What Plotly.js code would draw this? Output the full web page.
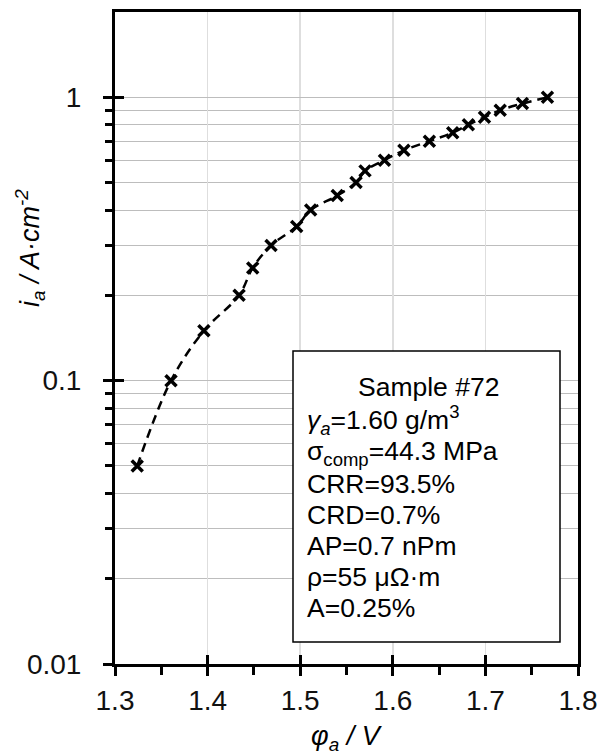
<!DOCTYPE html>
<html>
<head>
<meta charset="utf-8">
<script src="https://cdn.plot.ly/plotly-3.0.1.min.js"></script>
<style>html,body{margin:0;padding:0;background:#fff;}#chart{width:613px;height:754px;}</style>
</head>
<body>
<div id="chart"></div>
<script>
// Data
var potential = [1.324, 1.3605, 1.396, 1.434, 1.4487, 1.4685, 1.4962, 1.5113, 1.540, 1.5603, 1.570, 1.591, 1.612, 1.6395, 1.6647, 1.6816, 1.699, 1.716, 1.740, 1.767];
var current   = [0.05, 0.10, 0.15, 0.20, 0.25, 0.30, 0.35, 0.40, 0.45, 0.50, 0.55, 0.60, 0.65, 0.70, 0.75, 0.80, 0.85, 0.90, 0.95, 1.00];
var xTicks = [1.3, 1.4, 1.5, 1.6, 1.7, 1.8];
var xTickText = ['1.3', '1.4', '1.5', '1.6', '1.7', '1.8'];
var yTicks = [0.01, 0.1, 1];
var yTickText = ['0.01', '0.1', '1'];
var yMinor = [0.02,0.03,0.04,0.05,0.06,0.07,0.08,0.09,0.2,0.3,0.4,0.5,0.6,0.7,0.8,0.9];
var infoTitle = 'Sample #72';
var infoLines = [
  '<i>γ</i><sub><i>a</i></sub>=1.60 g/m<sup>3</sup>',
  'σ<sub>comp</sub>=44.3 MPa',
  'CRR=93.5%',
  'CRD=0.7%',
  'AP=0.7 nPm',
  'ρ=55 μΩ·m',
  'A=0.25%'
];

var W = 613, H = 754, L = 115, R = 35, T = 12, B = 90;
var pw = W - L - R, ph = H - T - B;
function px(x) { return (x - L) / pw; }
function py(y) { return (H - B - y) / ph; }

var FONT = 'Liberation Sans, Arial, sans-serif';

var traces = [{
  x: potential, y: current, type: 'scatter', mode: 'lines+markers',
  line: {color: '#000', width: 2.5, dash: '9px,6px', shape: 'spline', smoothing: 1},
  marker: {symbol: 'x-thin', size: 11, color: '#000', line: {color: '#000', width: 3.5}},
  hoverinfo: 'x+y', showlegend: false
}, {
  x: [], y: [], xaxis: 'x2', yaxis: 'y2', type: 'scatter', mode: 'markers', showlegend: false, hoverinfo: 'skip'
}];

var annotations = [];
annotations.push({xref: 'paper', yref: 'paper', x: px(428), y: py(387), xanchor: 'center', yanchor: 'middle',
  text: infoTitle, showarrow: false, font: {family: FONT, size: 26.5, color: '#000'}});
var rowY = [420, 453, 484, 515, 546, 577, 608];
infoLines.forEach(function (t, i) {
  annotations.push({xref: 'paper', yref: 'paper', x: px(305), y: py(rowY[i]), xanchor: 'left', yanchor: 'middle',
    text: t, showarrow: false, font: {family: FONT, size: 26.5, color: '#000'}});
});
annotations.push({xref: 'paper', yref: 'paper', x: px(30), y: py(248), xanchor: 'center', yanchor: 'middle', textangle: -90,
  text: '<i>i<sub>a</sub> / A·cm<sup>-2</sup></i>', showarrow: false, font: {family: FONT, size: 27, color: '#000'}});
annotations.push({xref: 'paper', yref: 'paper', x: px(347), y: py(738), xanchor: 'center', yanchor: 'middle',
  text: '<i>φ<sub>a</sub> / V</i>', showarrow: false, font: {family: FONT, size: 27, color: '#000'}});

var layout = {
  width: W, height: H,
  margin: {l: L, r: R, t: T, b: B, pad: 0},
  paper_bgcolor: '#fff', plot_bgcolor: '#fff',
  font: {family: FONT, size: 28, color: '#000'},
  xaxis: {
    range: [1.3, 1.8], tickvals: xTicks, ticktext: xTickText,
    ticks: 'outside', ticklen: 9, tickwidth: 3, tickcolor: '#000',
    showline: true, linewidth: 3, linecolor: '#000', mirror: true,
    showgrid: true, gridcolor: '#dedede', gridwidth: 1.5, zeroline: false,
    minor: {dtick: 0.05, ticks: 'outside', ticklen: 8, tickwidth: 3, tickcolor: '#000', showgrid: false},
    tickfont: {family: FONT, size: 28, color: '#111'}, ticklabelstandoff: 0
  },
  yaxis: {
    type: 'log', range: [-2, Math.log10(2)], tickvals: yTicks, ticktext: yTickText,
    ticks: 'outside', ticklen: 9, tickwidth: 3, tickcolor: '#000',
    showline: true, linewidth: 3, linecolor: '#000', mirror: true,
    showgrid: true, gridcolor: '#bdbdbd', gridwidth: 1, zeroline: false,
    minor: {tickvals: yMinor, ticks: 'outside', ticklen: 7, tickwidth: 3, tickcolor: '#000', showgrid: true, gridcolor: '#bdbdbd', gridwidth: 1},
    tickfont: {family: FONT, size: 28, color: '#111'}, ticklabelstandoff: 16
  },
  xaxis2: {overlaying: 'x', anchor: 'y2', range: [1.3, 1.8], tickvals: xTicks, ticks: 'inside', ticklen: 9, tickwidth: 3,
    tickcolor: '#000', showticklabels: false, showgrid: false, zeroline: false, showline: false},
  yaxis2: {overlaying: 'y', anchor: 'x2', type: 'log', range: [-2, Math.log10(2)], tickvals: yTicks, ticks: 'inside', ticklen: 9, tickwidth: 3,
    tickcolor: '#000', showticklabels: false, showgrid: false, zeroline: false, showline: false},
  shapes: [{type: 'rect', xref: 'paper', yref: 'paper', x0: px(293), x1: px(560), y0: py(642), y1: py(351),
    line: {color: '#000', width: 1.5}, fillcolor: '#fff', layer: 'above'}],
  annotations: annotations
};

Plotly.newPlot('chart', traces, layout, {displayModeBar: false, staticPlot: true});
</script>
</body>
</html>
